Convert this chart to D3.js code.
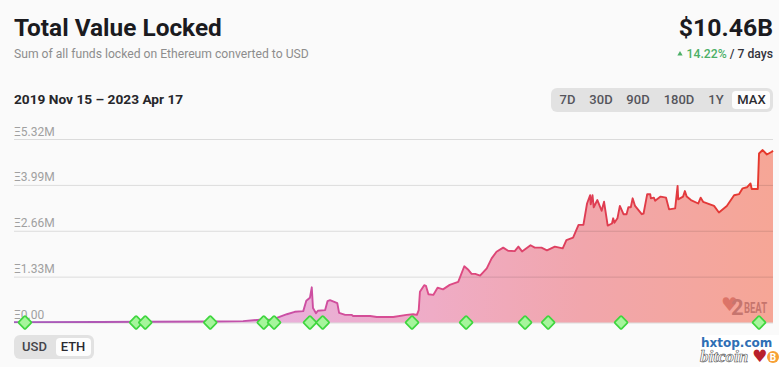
<!DOCTYPE html>
<html>
<head>
<meta charset="utf-8">
<script src="https://cdn.jsdelivr.net/npm/d3@7"></script>
<style>
  html, body { margin: 0; padding: 0; background: #fafafa; overflow: hidden; }
  svg { display: block; font-family: Roboto, sans-serif; }
</style>
</head>
<body>
<script>
// days since 2019 Nov 15
var days = [0,142,216,323,377,405,426,438,449,462,476,481,487,490,492,497,500,512,516,520,532,535,545,556,558,586,597,624,646,657,663,666,668,675,678,682,690,697,706,717,731,741,748,753,759,767,778,786,794,805,813,824,830,836,850,857,868,877,890,903,909,920,929,937,943,948,949,952,954,960,967,971,977,984,986,988,993,997,1003,1008,1011,1015,1018,1022,1033,1036,1042,1047,1048,1053,1055,1064,1073,1078,1088,1092,1093,1101,1104,1107,1114,1126,1130,1134,1152,1160,1173,1185,1193,1199,1206,1212,1214,1224,1226,1229,1232,1239,1247,1249];
// TVL in million ETH
var values = [0.01,0.014,0.02,0.03,0.04,0.08,0.09,0.17,0.24,0.31,0.33,0.63,0.72,1.02,0.42,0.27,0.34,0.36,0.62,0.65,0.56,0.28,0.22,0.22,0.19,0.19,0.16,0.16,0.22,0.24,0.22,0.36,0.89,1.08,1.06,0.82,0.80,1.01,0.96,1.09,1.18,1.63,1.52,1.41,1.41,1.36,1.57,1.86,2.05,2.17,2.08,2.07,2.20,2.06,2.24,2.17,2.17,2.09,2.20,2.15,2.39,2.46,2.83,2.83,3.45,3.69,3.43,3.69,3.34,3.55,3.24,3.50,2.81,2.87,3.02,2.89,3.02,3.38,3.14,3.14,3.34,3.34,3.60,3.38,3.14,3.16,3.72,3.72,3.60,3.62,3.53,3.65,3.62,3.28,3.31,3.96,3.57,3.65,3.81,3.65,3.55,3.45,3.62,3.50,3.38,3.19,3.38,3.69,3.72,3.89,3.92,4.03,3.87,3.87,4.90,4.95,5.00,4.87,4.95,4.98];
var milestoneDays = [18,201,216,323,411,428,487,508,655,744,841,879,999,1226];
var yTicks = [0, 1.33, 2.66, 3.99, 5.32];
var yTickLabels = ['Ξ0.00', 'Ξ1.33M', 'Ξ2.66M', 'Ξ3.99M', 'Ξ5.32M'];
var rangeButtons = ['7D', '30D', '90D', '180D', '1Y', 'MAX'];
var rangeCenters = [567.5, 601, 638, 679, 716, 751.5];
var unitButtons = ['USD', 'ETH'];
var unitCenters = [34.5, 73];

var width = 779,
    height = 367,
    plot = { left: 14, right: 773, top: 139, bottom: 322.5 };

var svg = d3.select('body')
    .append('svg')
    .attr('width', width)
    .attr('height', height)

var xScale = d3.scaleLinear()
    .domain([0, 1249])
    .range([plot.left, plot.right])

var yScale = d3.scaleLinear()
    .domain([0, 5.32])
    .range([plot.bottom, plot.top])

var defs = svg.append('defs')

function gradient(id, stops) {
    var g = defs.append('linearGradient')
        .attr('id', id)
        .attr('gradientUnits', 'userSpaceOnUse')
        .attr('x1', plot.left).attr('x2', plot.right)
        .attr('y1', 0).attr('y2', 0)
    stops.forEach(s => g.append('stop').attr('offset', s[0]).attr('stop-color', s[1]))
}
gradient('lineGrad', [[0, '#a45cbc'], [0.35, '#c94fa6'], [0.55, '#dc4c8c'], [0.75, '#de3d55'], [1, '#e6382a']])
gradient('areaGrad', [[0, '#e6c0ec'], [0.35, '#e9b0da'], [0.55, '#efacc6'], [0.75, '#f1a6ac'], [1, '#f6a696']])

var pts = days.map((d, i) => [d, values[i]])

var area = d3.area()
    .x(d => xScale(d[0]))
    .y0(plot.bottom)
    .y1(d => yScale(d[1]))

var line = d3.line()
    .x(d => xScale(d[0]))
    .y(d => yScale(d[1]))

svg.append('path')
    .attr('d', area(pts))
    .attr('fill', 'url(#areaGrad)')

// grid + labels
var yAxis = d3.axisRight(yScale)
    .tickValues(yTicks)
    .tickSize(plot.right - plot.left)
    .tickFormat((d, i) => yTickLabels[i])

var axisG = svg.append('g')
    .attr('transform', `translate(${plot.left}, 0)`)
    .call(yAxis)
axisG.select('.domain').remove()
axisG.selectAll('line').attr('stroke', 'rgba(0,0,0,0.12)')
axisG.selectAll('text')
    .attr('x', 0)
    .attr('dy', -4)
    .attr('fill', '#a0a0a0')
    .attr('font-size', 12)
    .attr('font-family', 'Roboto')

svg.append('path')
    .attr('d', line(pts))
    .attr('fill', 'none')
    .attr('stroke', 'url(#lineGrad)')
    .attr('stroke-width', 1.9)
    .attr('stroke-linejoin', 'round')

// 12BEAT watermark
var logo = svg.append('g').attr('opacity', 0.45)
logo.append('text').attr('x', 721).attr('y', 311).attr('font-size', 19)
    .attr('font-family', 'DejaVu Sans').attr('fill', '#c0392b').text('♥')
logo.append('text').attr('x', 731).attr('y', 315).attr('font-size', 22)
    .attr('font-weight', 700).attr('fill', '#8e3a3a').text('2')
logo.append('text').attr('x', 744).attr('y', 313).attr('font-size', 14)
    .attr('font-weight', 700).attr('fill', '#8e3a3a').attr('textLength', 23)
    .attr('lengthAdjust', 'spacingAndGlyphs').text('BEAT')

// milestones
svg.selectAll('.milestone')
    .data(milestoneDays)
    .enter().append('rect')
    .attr('class', 'milestone')
    .attr('x', -4.8).attr('y', -4.8)
    .attr('width', 9.6).attr('height', 9.6)
    .attr('rx', 1)
    .attr('fill', '#a6f59c')
    .attr('stroke', '#3fd63f')
    .attr('stroke-width', 1.7)
    .attr('transform', d => `translate(${xScale(d)}, ${plot.bottom}) rotate(45)`)

// header
svg.append('text').attr('x', 14).attr('y', 36)
    .attr('font-size', 24.4).attr('font-weight', 700).attr('fill', '#1b1b1f')
    .text('Total Value Locked')
svg.append('text').attr('x', 14).attr('y', 58)
    .attr('font-size', 12.15).attr('fill', '#8d8d8d')
    .text('Sum of all funds locked on Ethereum converted to USD')
svg.append('text').attr('x', 14).attr('y', 104)
    .attr('font-size', 13.7).attr('font-weight', 700).attr('fill', '#26262a')
    .text('2019 Nov 15 – 2023 Apr 17')

svg.append('text').attr('x', 773).attr('y', 36).attr('text-anchor', 'end')
    .attr('font-size', 24.8).attr('font-weight', 700).attr('fill', '#1b1b1f')
    .text('$10.46B')
var change = svg.append('text').attr('x', 773).attr('y', 58).attr('text-anchor', 'end')
    .attr('font-size', 12.2).attr('font-weight', 500)
change.append('tspan').attr('fill', '#4caf67').text('14.22%')
change.append('tspan').attr('fill', '#33333a').text(' / 7 days')
svg.append('path')
    .attr('d', d3.symbol(d3.symbolTriangle, 12)())
    .attr('fill', '#4caf67')
    .attr('transform', 'translate(680, 54)')

// range buttons
svg.append('rect').attr('x', 551).attr('y', 88).attr('width', 222).attr('height', 24)
    .attr('rx', 6).attr('fill', '#e2e2e2')
svg.append('rect').attr('x', 732).attr('y', 91).attr('width', 38).attr('height', 18)
    .attr('rx', 4).attr('fill', '#fdfdfd')
svg.selectAll('.range')
    .data(rangeButtons)
    .enter().append('text')
    .attr('class', 'range')
    .attr('x', (d, i) => rangeCenters[i])
    .attr('y', 104)
    .attr('text-anchor', 'middle')
    .attr('font-size', 13)
    .attr('font-weight', 500)
    .attr('fill', d => d === 'MAX' ? '#2a2a30' : '#55555c')
    .text(d => d)

// unit buttons
svg.append('rect').attr('x', 14).attr('y', 335).attr('width', 80).attr('height', 24)
    .attr('rx', 6).attr('fill', '#e2e2e2')
svg.append('rect').attr('x', 56).attr('y', 338).attr('width', 35).attr('height', 18)
    .attr('rx', 4).attr('fill', '#fdfdfd')
svg.selectAll('.unit')
    .data(unitButtons)
    .enter().append('text')
    .attr('class', 'unit')
    .attr('x', (d, i) => unitCenters[i])
    .attr('y', 351)
    .attr('text-anchor', 'middle')
    .attr('font-size', 13)
    .attr('font-weight', 500)
    .attr('fill', d => d === 'ETH' ? '#2a2a30' : '#44444a')
    .text(d => d)

// hxtop stamp
var stamp = svg.append('g')
stamp.append('rect').attr('x', 700).attr('y', 335).attr('width', 79).attr('height', 32).attr('fill', '#ffffff')
stamp.append('text').attr('x', 701).attr('y', 347)
    .attr('font-family', 'DejaVu Sans').attr('font-size', 12).attr('font-weight', 700)
    .attr('fill', '#2f6fb5').text('hxtop.com')
stamp.append('text').attr('x', 700).attr('y', 362)
    .attr('font-family', 'Liberation Serif').attr('font-style', 'italic').attr('font-size', 17)
    .attr('font-weight', 700).attr('fill', '#fff').attr('stroke', '#555').attr('stroke-width', 0.6)
    .text('bitcoin')
stamp.append('text').attr('x', 752).attr('y', 362)
    .attr('font-family', 'DejaVu Sans').attr('font-size', 17).attr('fill', '#b8202c').text('♥')
stamp.append('circle').attr('cx', 773).attr('cy', 357).attr('r', 6).attr('fill', '#f7a035')
stamp.append('text').attr('x', 773).attr('y', 361).attr('text-anchor', 'middle')
    .attr('font-size', 10).attr('font-weight', 700).attr('fill', '#fff').text('B')
</script>
</body>
</html>
